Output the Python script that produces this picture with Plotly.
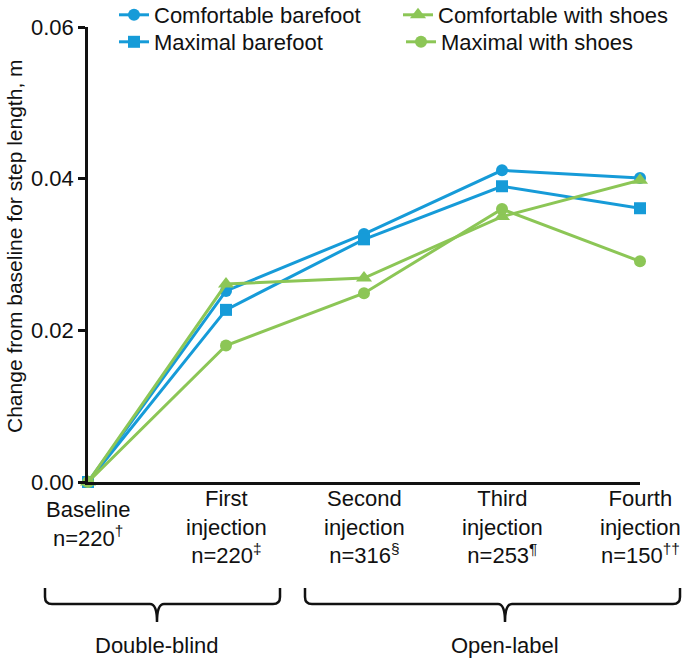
import plotly.graph_objects as go

categories = ["Baseline<br>n=220<sup>†</sup>",
              "First<br>injection<br>n=220<sup>‡</sup>",
              "Second<br>injection<br>n=316<sup>§</sup>",
              "Third<br>injection<br>n=253<sup>¶</sup>",
              "Fourth<br>injection<br>n=150<sup>††</sup>"]
x_idx = [0, 1, 2, 3, 4]

comfortable_barefoot = [0.0, 0.0252, 0.0327, 0.0411, 0.0401]
maximal_barefoot = [0.0, 0.0227, 0.0320, 0.0390, 0.0361]
comfortable_shoes = [0.0, 0.0261, 0.0269, 0.0350, 0.0398]
maximal_shoes = [0.0, 0.0180, 0.0249, 0.0360, 0.0291]

y_ticks = [0.0, 0.02, 0.04, 0.06]
y_ticklabels = ["0.00", "0.02", "0.04", "0.06"]
y_title = "Change from baseline for step length, m"

groups = [("Double-blind", 0, 1), ("Open-label", 2, 4)]

BLUE = "#169bd8"
GREEN = "#8cc656"
FONT = "Liberation Sans, Arial, Helvetica, sans-serif"
FS = 22
W, H = 685, 658
L, R, T, B = 88, 45, 27, 176
PW, PH = W - L - R, H - T - B


def px_x(px):
    return (px - L) / PW


def px_y(py):
    return (H - B - py) / PH


fig = go.Figure()
series = [
    ("Comfortable barefoot", comfortable_barefoot, BLUE, "circle", 12, "legend"),
    ("Maximal barefoot", maximal_barefoot, BLUE, "square", 12, "legend2"),
    ("Comfortable with shoes", comfortable_shoes, GREEN, "triangle-up", 14, "legend3"),
    ("Maximal with shoes", maximal_shoes, GREEN, "circle", 12, "legend4"),
]
for name, vals, col, sym, sz, lg in series:
    fig.add_trace(go.Scatter(
        x=x_idx, y=vals, name=name, mode="lines+markers",
        line=dict(color=col, width=3),
        marker=dict(color=col, symbol=sym, size=sz),
        cliponaxis=False, legend=lg,
    ))

# x category labels
for i, lab in zip(x_idx, categories):
    yc = 524 if i == 0 else 527
    fig.add_annotation(x=i, y=px_y(yc), xref="x", yref="paper", text=lab,
                       showarrow=False, xanchor="center", yanchor="middle",
                       font=dict(size=FS, color="#111"), align="center")

# y-axis title
fig.add_annotation(x=px_x(15), y=px_y(246), xref="paper", yref="paper",
                   text=y_title, textangle=-90, showarrow=False,
                   xanchor="center", yanchor="middle",
                   font=dict(size=21, color="#111"))

# braces
brace_px = {"Double-blind": (45, 280, 157), "Open-label": (305, 680, 505)}
top, mid, tip = 588, 604, 622
for name, a, b in groups:
    x1, x2, xc = brace_px[name]
    r = 7
    pts = [
        f"M {px_x(x1)},{px_y(top)}",
        f"L {px_x(x1)},{px_y(mid - r)}",
        f"Q {px_x(x1)},{px_y(mid)} {px_x(x1 + r)},{px_y(mid)}",
        f"L {px_x(xc - r)},{px_y(mid)}",
        f"Q {px_x(xc)},{px_y(mid)} {px_x(xc)},{px_y(tip)}",
        f"Q {px_x(xc)},{px_y(mid)} {px_x(xc + r)},{px_y(mid)}",
        f"L {px_x(x2 - r)},{px_y(mid)}",
        f"Q {px_x(x2)},{px_y(mid)} {px_x(x2)},{px_y(mid - r)}",
        f"L {px_x(x2)},{px_y(top)}",
    ]
    fig.add_shape(type="path", xref="paper", yref="paper", path=" ".join(pts),
                  line=dict(color="#111", width=2.5))
    fig.add_annotation(x=px_x(xc), y=px_y(645), xref="paper", yref="paper",
                       text=name, showarrow=False, xanchor="center", yanchor="middle",
                       font=dict(size=FS, color="#111"))


def leg(xp, yp):
    return dict(x=px_x(xp), y=px_y(yp), xanchor="left", yanchor="middle",
                bgcolor="rgba(0,0,0,0)", font=dict(size=FS), itemwidth=30)


fig.update_layout(
    width=W, height=H,
    margin=dict(l=L, r=R, t=T, b=B, autoexpand=False),
    paper_bgcolor="white", plot_bgcolor="white",
    font=dict(family=FONT, size=FS, color="#111"),
    showlegend=True,
    legend=leg(114, 15),
    legend2=leg(114, 42),
    legend3=leg(398, 15),
    legend4=leg(401, 42),
    xaxis=dict(range=[0, 4], showticklabels=False, ticks="", showgrid=False,
               zeroline=False, showline=True, linecolor="#111", linewidth=2.5),
    yaxis=dict(range=[0, 0.06], tickvals=y_ticks, ticktext=y_ticklabels,
               ticks="outside", ticklen=7, tickwidth=2.5, tickcolor="#111",
               showgrid=False, zeroline=False, showline=True, linecolor="#111",
               linewidth=2.5, tickfont=dict(size=FS), automargin=False),
)

fig.write_html("out.html", config={"displayModeBar": False},
               post_script="document.body.style.margin='0';document.body.style.padding='0';")
